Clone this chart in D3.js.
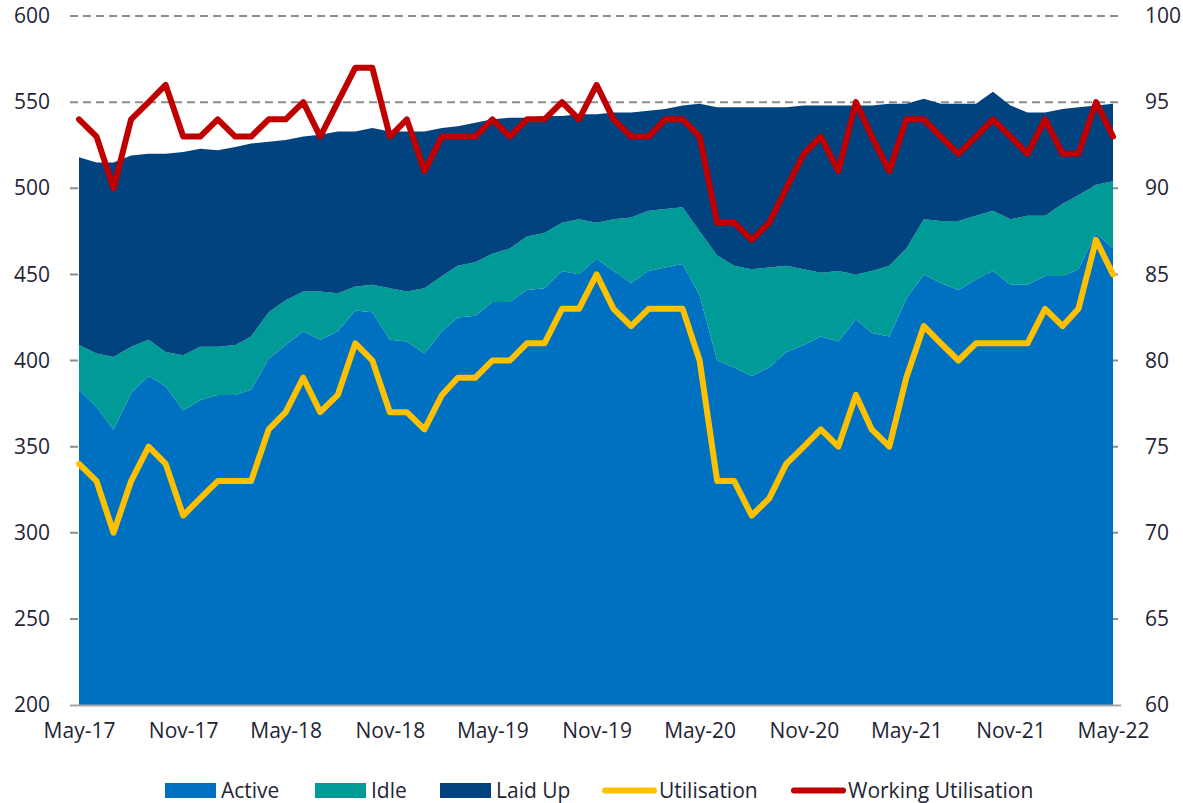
<!DOCTYPE html>
<html>
<head>
<meta charset="utf-8">
<script src="https://cdn.jsdelivr.net/npm/d3@7"></script>
<style>
  body { margin: 0; background: #fff; }
  text { font-family: "Open Sans", sans-serif; fill: #1f2535; }
</style>
</head>
<body>
<div class="maintable"></div>
<script>
// 月份 May-17 .. May-22, 每月一个点
var months = d3.timeMonths(new Date(2017, 4, 1), new Date(2022, 5, 1));
var tickLabels = ["May-17","Nov-17","May-18","Nov-18","May-19","Nov-19","May-20","Nov-20","May-21","Nov-21","May-22"];

// 船队数量 (左轴)
var active = [383,373,360,381,391,385,371,377,380,380,383,401,409,417,412,417,429,428,412,411,404,417,425,426,434,434,441,442,452,450,459,452,445,452,454,456,438,400,396,391,396,405,409,414,411,424,416,414,436,450,445,441,447,452,444,444,449,449,453,474,465];
var idle = [26,31,42,27,21,20,32,31,28,29,31,27,26,23,28,22,14,16,30,29,38,32,30,31,28,31,31,32,28,32,21,30,38,35,34,33,37,61,59,62,58,50,44,37,41,26,36,41,29,32,36,40,37,35,38,40,35,42,43,28,39];
var laidUp = [109,111,113,111,108,115,118,115,114,115,112,99,93,90,91,94,90,91,91,93,91,86,81,81,78,76,69,68,62,61,63,62,61,58,58,59,74,86,92,94,93,92,95,97,96,98,96,94,84,70,68,68,65,69,66,60,60,55,51,46,45];

// 利用率 % (右轴)
var utilisation = [74,73,70,73,75,74,71,72,73,73,73,76,77,79,77,78,81,80,77,77,76,78,79,79,80,80,81,81,83,83,85,83,82,83,83,83,80,73,73,71,72,74,75,76,75,78,76,75,79,82,81,80,81,81,81,81,83,82,83,87,85];
var workingUtil = [94,93,90,94,95,96,93,93,94,93,93,94,94,95,93,95,97,97,93,94,91,93,93,93,94,93,94,94,95,94,96,94,93,93,94,94,93,88,88,87,88,90,92,93,91,95,93,91,94,94,93,92,93,94,93,92,94,92,92,95,93];

var leftTicks = [200,250,300,350,400,450,500,550,600];
var rightTicks = [60,65,70,75,80,85,90,95,100];

var colors = { Active:"#0070c0", Idle:"#009a97", "Laid Up":"#00437e" };

var rows = months.map(function(m, i){
  return { date:m, Active:active[i], Idle:idle[i], "Laid Up":laidUp[i] };
});

var W = 1183, H = 803;
var x = d3.scaleTime().domain([months[0], months[months.length-1]]).range([79, 1113]);
var yL = d3.scaleLinear().domain([200, 600]).range([705, 16]).clamp(true);
var yR = d3.scaleLinear().domain([60, 100]).range([705, 16]);

var svg = d3.select(".maintable").append("svg")
  .attr("width", W)
  .attr("height", H);

// 网格线 (虚线)
svg.append("g")
  .selectAll("line")
  .data(leftTicks.slice(1))
  .join("line")
  .attr("x1", 70)
  .attr("x2", 1121)
  .attr("y1", function(d){ return yL(d); })
  .attr("y2", function(d){ return yL(d); })
  .attr("stroke", "#8c8c8c")
  .attr("stroke-width", 2)
  .attr("stroke-dasharray", "8,5");

// 堆叠面积
var keys = ["Active","Idle","Laid Up"];
var series = d3.stack().keys(keys)(rows);

var area = d3.area()
  .x(function(d){ return x(d.data.date); })
  .y0(function(d){ return yL(d[0]); })
  .y1(function(d){ return yL(d[1]); });

svg.append("g")
  .selectAll("path")
  .data(series)
  .join("path")
  .attr("d", area)
  .attr("fill", function(d){ return colors[d.key]; });

// 底部轴线
svg.append("line")
  .attr("x1", 70)
  .attr("x2", 1121)
  .attr("y1", 705.5)
  .attr("y2", 705.5)
  .attr("stroke", "#a6a6a6")
  .attr("stroke-width", 2);

// 折线
var lineR = d3.line()
  .x(function(d, i){ return x(months[i]); })
  .y(function(d){ return yR(d); });

svg.append("path")
  .attr("d", lineR(utilisation))
  .attr("fill", "none")
  .attr("stroke", "#ffc000")
  .attr("stroke-width", 6)
  .attr("stroke-linejoin", "round")
  .attr("stroke-linecap", "round");

svg.append("path")
  .attr("d", lineR(workingUtil))
  .attr("fill", "none")
  .attr("stroke", "#c00000")
  .attr("stroke-width", 6)
  .attr("stroke-linejoin", "round")
  .attr("stroke-linecap", "round");

// 左轴
var axL = svg.append("g")
  .attr("transform", "translate(70,0)")
  .call(d3.axisLeft(yL).tickValues(leftTicks).tickSize(0).tickPadding(20));
axL.select(".domain").remove();
axL.selectAll("text").attr("font-size", "21px").attr("font-family", null);

// 右轴
var axR = svg.append("g")
  .attr("transform", "translate(1121,0)")
  .call(d3.axisRight(yR).tickValues(rightTicks).tickSize(0).tickPadding(24));
axR.select(".domain").remove();
axR.selectAll("text").attr("font-size", "21px").attr("font-family", null);

// X轴
var xTicks = months.filter(function(d, i){ return i % 6 == 0; });
var axX = svg.append("g")
  .attr("transform", "translate(0,705)")
  .call(d3.axisBottom(x).tickValues(xTicks).tickSize(0).tickPadding(18)
    .tickFormat(function(d, i){ return tickLabels[i]; }));
axX.select(".domain").remove();
axX.selectAll("text").attr("font-size", "21px").attr("font-family", null);

// 图例
var legend = [
  { name:"Active", type:"rect", color:colors.Active, x:165 },
  { name:"Idle", type:"rect", color:colors.Idle, x:315 },
  { name:"Laid Up", type:"rect", color:colors["Laid Up"], x:440 },
  { name:"Utilisation", type:"line", color:"#ffc000", x:603 },
  { name:"Working Utilisation", type:"line", color:"#c00000", x:792 }
];

svg.append("g")
  .selectAll("g")
  .data(legend)
  .join("g")
  .attr("transform", function(d){ return "translate(" + d.x + ",790)"; })
  .each(function(d){
    var _this = d3.select(this);
    if(d.type == "rect"){
      _this.append("rect")
        .attr("x", 0)
        .attr("y", -7)
        .attr("width", 51)
        .attr("height", 15)
        .attr("fill", d.color);
    }else{
      _this.append("line")
        .attr("x1", 2)
        .attr("x2", 51)
        .attr("y1", 0.5)
        .attr("y2", 0.5)
        .attr("stroke", d.color)
        .attr("stroke-width", 6)
        .attr("stroke-linecap", "round");
    }
    _this.append("text")
      .attr("x", 56)
      .attr("y", 8)
      .attr("font-size", "21px")
      .text(d.name);
  });
</script>
</body>
</html>
